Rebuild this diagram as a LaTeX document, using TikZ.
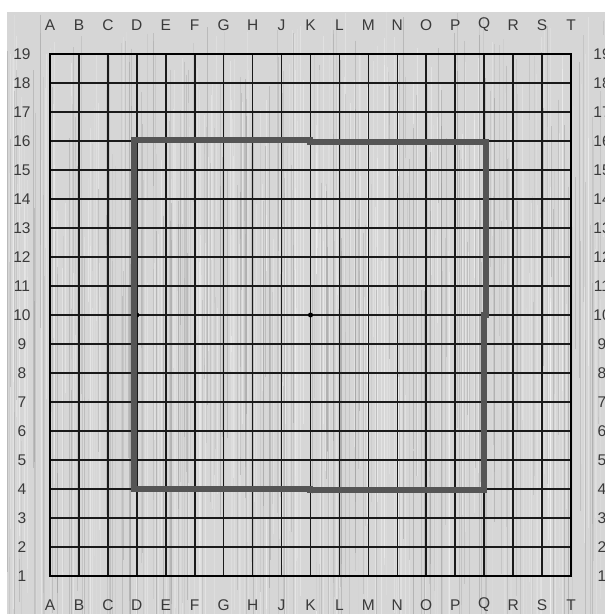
\documentclass[tikz,border=0pt]{standalone}
\usepackage{fontspec}
\setmainfont{Liberation Sans}
\definecolor{boardbg}{HTML}{D6D6D6}
\definecolor{gridcol}{HTML}{1A1A1A}
\definecolor{thickcol}{HTML}{555555}
\definecolor{labcol}{HTML}{3A3A3A}
\begin{document}
\begin{tikzpicture}[x=1pt,y=-1pt,
  gridline/.style={draw=gridcol,line width=1.6pt},
  borderline/.style={draw=black,line width=2.8pt},
  regionline/.style={draw=thickcol,line width=6pt,line cap=rect},
  coordlabel/.style={text=labcol,font=\fontsize{15.5}{17}\selectfont,inner sep=0pt},
  starpt/.style={fill=black,circle,inner sep=0pt,minimum size=5pt}]
\useasboundingbox (0,0) rectangle (605,614);
\fill[white] (0,0) rectangle (605,614);
\fill[boardbg] (7,12) rectangle (605,614);
% wood-like vertical streaks
\pgfmathsetseed{7}
\foreach \i in {1,...,520}{
  \pgfmathsetmacro\xx{7+rnd*598}
  \pgfmathsetmacro\ya{12+rnd*300}
  \pgfmathsetmacro\yb{\ya+150+rnd*450}
  \pgfmathsetmacro\op{0.08+rnd*0.25}
  \pgfmathparse{rnd>0.5?1:0}
  \ifnum\pgfmathresult=1
    \draw[white,opacity=\op,line width=0.8pt] (\xx,\ya) -- (\xx,{min(\yb,614)});
  \else
    \draw[gray,opacity=\op,line width=0.6pt] (\xx,\ya) -- (\xx,{min(\yb,614)});
  \fi
}
\def\gx#1{50+#1*28.944}
\def\gy#1{54+(19-#1)*29}
% grid
\foreach \c in {1,...,17}{
  \draw[gridline] ({\gx{\c}},{\gy{19}}) -- ({\gx{\c}},{\gy{1}});
}
\foreach \r in {2,...,18}{
  \draw[gridline] ({\gx{0}},{\gy{\r}}) -- ({\gx{18}},{\gy{\r}});
}
\draw[borderline] ({\gx{0}},{\gy{19}}) rectangle ({\gx{18}},{\gy{1}});
% star points
\foreach \c/\r [count=\k] in {3/4,3/10,3/16,9/4,9/10,9/16,15/4,15/10,15/16}{
  \node[starpt] (star\k) at ({\gx{\c}},{\gy{\r}}) {};
}
% thick region
\draw[regionline] (133.5,140) -- (310,140);
\draw[regionline] (310,142.3) -- (485.5,142.3) -- (485.5,{\gy{10}});
\draw[regionline] (483.5,{\gy{10}}) -- (483.5,489.8) -- (310,489.8);
\draw[regionline] (310,488.5) -- (133.5,488.5) -- (133.5,140);
% labels
\foreach \l [count=\i from 0] in {A,B,C,D,E,F,G,H,J,K,L,M,N,O,P,Q,R,S,T}{
  \node[coordlabel] (top\l) at ({\gx{\i}},25) {\l};
  \node[coordlabel] (bot\l) at ({\gx{\i}},605) {\l};
}
\foreach \r in {1,...,19}{
  \node[coordlabel] (left\r) at (22,{\gy{\r}}) {\r};
  \node[coordlabel] (right\r) at (602,{\gy{\r}}) {\r};
}
\end{tikzpicture}
\end{document}
